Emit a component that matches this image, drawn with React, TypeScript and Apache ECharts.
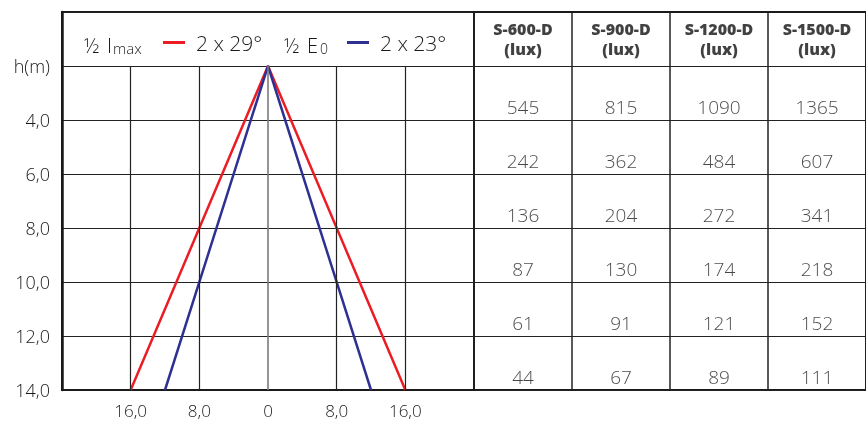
import React, { useEffect, useRef } from "react";
import * as echarts from "echarts";

const heights = [4, 6, 8, 10, 12, 14];
const models = ["S-600-D", "S-900-D", "S-1200-D", "S-1500-D"];
const luxS600 = [545, 242, 136, 87, 61, 44];
const luxS900 = [815, 362, 204, 130, 91, 67];
const luxS1200 = [1090, 484, 272, 174, 121, 89];
const luxS1500 = [1365, 607, 341, 218, 152, 111];
const imaxLine = [[-16, 14], [0, 2], [16, 14]];
const e0Line = [[-12, 14], [0, 2], [12, 14]];
const gridXs = [-16, -8, 0, 8, 16];
const apexH = 2;
const maxH = 14;

const FONT = "'Open Sans', 'DejaVu Sans', sans-serif";
const TXT = "#1a1a1a";

export default function App() {
  const ref = useRef<HTMLDivElement>(null);
  useEffect(() => {
    if (!ref.current) return;
    const chart = echarts.init(ref.current, null, { renderer: "svg" });
    const luxCols = [luxS600, luxS900, luxS1200, luxS1500];
    const valueData: any[] = [];
    luxCols.forEach((col, i) => {
      col.forEach((v, j) => valueData.push([i, heights[j] - 0.5, v]));
    });
    const headerData = models.map((m, i) => [i, 1, m]);
    const fmtNum = (v: number) => v.toFixed(1).replace(".", ",");
    const txt = (text: string, x: number, size: number) => ({
      type: "text",
      x,
      y: 55,
      style: {
        text,
        fontSize: size,
        fontFamily: FONT,
        fontWeight: 300,
        fill: TXT,
        verticalAlign: "bottom",
      },
    });

    chart.setOption({
      animation: false,
      textStyle: { fontFamily: FONT },
      grid: [
        { left: 62, right: 392, top: 12, bottom: 34, show: true, borderColor: "#1a1a1a", borderWidth: 2 },
        { left: 474, right: 0, top: 12, bottom: 34, show: true, borderColor: "#1a1a1a", borderWidth: 2 },
      ],
      xAxis: [
        {
          gridIndex: 0,
          type: "value",
          min: -24,
          max: 24,
          interval: 8,
          axisLine: { show: true, onZero: false, lineStyle: { color: "#1a1a1a", width: 2 } },
          axisTick: { show: false },
          splitLine: { show: false },
          axisLabel: {
            color: TXT,
            fontSize: 17,
            fontWeight: 300,
            margin: 12,
            formatter: (v: number) => (Math.abs(v) === 24 ? "" : v === 0 ? "0" : fmtNum(Math.abs(v))),
          },
        },
        {
          gridIndex: 1,
          type: "category",
          data: models,
          boundaryGap: true,
          axisLine: { show: true, lineStyle: { color: "#1a1a1a", width: 2 } },
          axisTick: { show: false },
          axisLabel: { show: false },
          splitLine: { show: true, interval: 0, lineStyle: { color: "#222", width: 1.5 } },
        },
      ],
      yAxis: [
        {
          gridIndex: 0,
          type: "value",
          inverse: true,
          min: 0,
          max: maxH,
          interval: 2,
          axisLine: { show: true, onZero: false, lineStyle: { color: "#1a1a1a", width: 2.5 } },
          axisTick: { show: false },
          splitLine: { show: true, lineStyle: { color: "#222", width: 1.2 } },
          axisLabel: {
            color: TXT,
            fontSize: 18,
            fontWeight: 300,
            margin: 12,
            formatter: (v: number) => (v === 0 ? "" : v === apexH ? "h(m)" : fmtNum(v)),
          },
        },
        {
          gridIndex: 1,
          type: "value",
          inverse: true,
          min: 0,
          max: maxH,
          interval: 2,
          axisLine: { show: false },
          axisTick: { show: false },
          axisLabel: { show: false },
          splitLine: { show: true, lineStyle: { color: "#222", width: 1.2 } },
        },
      ],
      legend: [
        {
          data: ["2 x 29°"],
          left: 158,
          top: 27,
          icon: "rect",
          itemWidth: 22,
          itemHeight: 3,
          textStyle: { fontSize: 21, color: TXT, fontWeight: 300, padding: [0, 0, 0, 6] },
        },
        {
          data: ["2 x 23°"],
          left: 342,
          top: 27,
          icon: "rect",
          itemWidth: 22,
          itemHeight: 3,
          textStyle: { fontSize: 21, color: TXT, fontWeight: 300, padding: [0, 0, 0, 6] },
        },
      ],
      graphic: [
        txt("½", 84, 20),
        txt("I", 107, 20),
        txt("max", 113, 15),
        txt("½", 284, 20),
        txt("E", 307, 20),
        txt("0", 320, 14),
      ],
      series: [
        {
          name: "grid",
          type: "line",
          xAxisIndex: 0,
          yAxisIndex: 0,
          data: [],
          z: 1,
          silent: true,
          markLine: {
            silent: true,
            symbol: "none",
            label: { show: false },
            data: gridXs.map((x) => [
              { coord: [x, apexH], lineStyle: { color: x === 0 ? "#7a7a7a" : "#222", width: x === 0 ? 1.6 : 1.2, type: "solid" } },
              { coord: [x, maxH] },
            ]),
          },
        },
        {
          name: "2 x 29°",
          type: "line",
          xAxisIndex: 0,
          yAxisIndex: 0,
          data: imaxLine,
          symbol: "none",
          z: 3,
          lineStyle: { color: "#ec1c24", width: 2.5 },
          itemStyle: { color: "#ec1c24" },
        },
        {
          name: "2 x 23°",
          type: "line",
          xAxisIndex: 0,
          yAxisIndex: 0,
          data: e0Line,
          symbol: "none",
          z: 3,
          lineStyle: { color: "#2e3192", width: 2.5 },
          itemStyle: { color: "#2e3192" },
        },
        {
          name: "header",
          type: "scatter",
          xAxisIndex: 1,
          yAxisIndex: 1,
          data: headerData,
          symbolSize: 0,
          itemStyle: { color: "rgba(0,0,0,0)" },
          label: {
            show: true,
            position: "inside",
            formatter: (p: any) => `{b|${p.data[2]}}\n{b|(lux)}`,
            rich: { b: { fontSize: 16, fontWeight: 800, color: "#111", lineHeight: 20, fontFamily: FONT } },
          },
        },
        {
          name: "lux",
          type: "scatter",
          xAxisIndex: 1,
          yAxisIndex: 1,
          data: valueData,
          symbolSize: 0,
          itemStyle: { color: "rgba(0,0,0,0)" },
          label: {
            show: true,
            position: "inside",
            formatter: (p: any) => String(p.data[2]),
            fontSize: 19,
            fontWeight: 300,
            color: TXT,
            fontFamily: FONT,
          },
        },
      ],
    });
    return () => chart.dispose();
  }, []);
  return <div ref={ref} style={{ position: "fixed", left: 0, top: 0, width: 866, height: 424 }} />;
}
